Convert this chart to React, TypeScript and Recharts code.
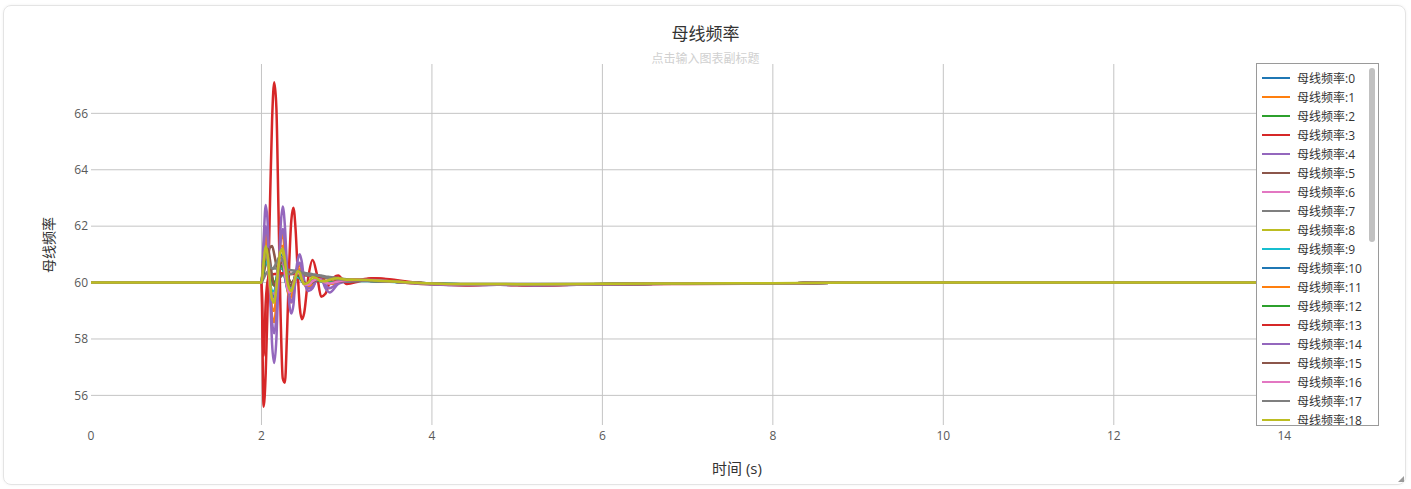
import { LineChart, Line, XAxis, YAxis, CartesianGrid } from 'recharts';

// sample times (s), dense during the transient after the fault at t = 2 s
const TIME = [
  0, 1.99, 2.0, 2.025, 2.05, 2.075, 2.1, 2.125, 2.15, 2.175, 2.2, 2.225, 2.25, 2.275, 2.3, 2.325,
  2.35, 2.375, 2.4, 2.425, 2.45, 2.475, 2.5, 2.55, 2.6, 2.65, 2.7, 2.75, 2.8, 2.9, 3.0,
  3.15, 3.3, 3.5, 3.75, 4.0, 4.4, 4.8, 5.2, 5.7, 6.2, 7.0, 8.0, 9.0, 11.0, 15.1,
];

const bus0 = [60, 60, 60, 61.0, 61.5, 60.9, 59.9, 59.4, 59.5, 60.1, 60.8, 61.0, 60.8, 60.3, 59.8, 59.6, 59.7, 60.0, 60.3, 60.4, 60.3, 60.1, 59.95, 59.9, 60.05, 60.15, 60.1, 60.0, 59.95, 60.05, 60.1,
  60.1, 60.08, 60.05, 60.0, 59.96, 59.93, 59.94, 59.92, 59.94, 59.95, 59.96, 59.97, 60.0, 60.0, 60.0];
const bus1 = [60, 60, 60, 61.0, 61.8, 61.2, 59.8, 58.8, 58.6, 59.3, 60.6, 61.5, 61.7, 61.0, 60.0, 59.4, 59.3, 59.6, 60.2, 60.6, 60.6, 60.3, 60.0, 59.8, 59.9, 60.1, 60.15, 60.05, 59.95, 60.0, 60.08,
  60.12, 60.1, 60.05, 59.98, 59.94, 59.92, 59.93, 59.9, 59.93, 59.95, 59.96, 59.97, 60.0, 60.0, 60.0];
const bus2 = [60, 60, 60, 60.4, 60.7, 60.6, 60.3, 60.0, 59.9, 60.0, 60.3, 60.5, 60.5, 60.3, 60.1, 59.95, 59.9, 60.0, 60.15, 60.2, 60.2, 60.1, 60.0, 59.95, 60.0, 60.08, 60.1, 60.05, 60.0, 60.02, 60.06,
  60.08, 60.07, 60.04, 60.0, 59.96, 59.94, 59.94, 59.93, 59.94, 59.95, 59.96, 59.97, 60.0, 60.0, 60.0];
const bus3 = [60, 60, 60, 55.6, 56.8, 59.5, 62.8, 65.8, 67.1, 66.2, 62.5, 58.8, 56.6, 56.45, 58.2, 60.6, 62.2, 62.65, 61.9, 60.4, 59.1, 58.7, 58.9, 60.2, 60.8, 60.3, 59.5, 59.6, 60.0, 60.25, 59.95,
  60.05, 60.15, 60.1, 60.0, 59.95, 59.9, 59.93, 59.9, 59.93, 59.94, 59.95, 59.97, 60.0, 60.0, 60.0];
const bus4 = [60, 60, 60, 61.5, 62.75, 62.0, 59.8, 57.8, 57.15, 58.0, 60.2, 62.0, 62.7, 62.0, 60.5, 59.3, 58.9, 59.2, 60.2, 60.8, 61.0, 60.7, 60.1, 59.7, 59.8, 60.1, 60.15, 59.8, 59.65, 59.95, 60.05,
  60.1, 60.1, 60.05, 59.98, 59.93, 59.91, 59.92, 59.9, 59.92, 59.94, 59.96, 59.97, 60.0, 60.0, 60.0];
const bus5 = [60, 60, 60, 60.3, 60.7, 61.0, 61.25, 61.3, 61.0, 60.6, 60.3, 60.2, 60.3, 60.35, 60.25, 60.1, 60.0, 60.0, 60.1, 60.2, 60.2, 60.1, 60.0, 59.95, 60.05, 60.1, 60.05, 60.0, 60.0, 60.05, 60.05,
  60.08, 60.06, 60.04, 60.0, 59.96, 59.93, 59.94, 59.92, 59.94, 59.95, 59.96, 59.97, 60.0, 60.0, 60.0];
const bus6 = [60, 60, 60, 60.6, 61.0, 60.7, 60.0, 59.6, 59.6, 60.0, 60.5, 60.7, 60.6, 60.2, 59.9, 59.75, 59.8, 60.0, 60.2, 60.25, 60.2, 60.05, 59.95, 59.95, 60.05, 60.1, 60.05, 60.0, 59.98, 60.03, 60.06,
  60.07, 60.06, 60.04, 60.0, 59.96, 59.93, 59.94, 59.92, 59.94, 59.95, 59.96, 59.97, 60.0, 60.0, 60.0];
const bus7 = [60, 60, 60, 60.15, 60.3, 60.4, 60.45, 60.48, 60.5, 60.5, 60.5, 60.5, 60.48, 60.47, 60.46, 60.45, 60.44, 60.43, 60.42, 60.4, 60.38, 60.36, 60.35, 60.32, 60.3, 60.27, 60.25, 60.22, 60.2, 60.16, 60.12,
  60.1, 60.07, 60.04, 60.0, 59.97, 59.94, 59.94, 59.93, 59.94, 59.95, 59.96, 59.97, 60.0, 60.0, 60.0];
const bus8 = [60, 60, 60, 60.9, 61.4, 60.9, 59.9, 59.3, 59.3, 59.9, 60.7, 61.2, 61.1, 60.6, 60.0, 59.7, 59.7, 60.0, 60.3, 60.4, 60.3, 60.1, 59.95, 59.95, 60.1, 60.15, 60.1, 60.0, 60.0, 60.08, 60.1,
  60.1, 60.08, 60.05, 60.0, 59.96, 59.93, 59.94, 59.92, 59.94, 59.95, 59.96, 59.97, 60.0, 60.0, 60.0];
const bus9 = [60, 60, 60, 60.5, 60.9, 60.6, 60.0, 59.7, 59.7, 60.0, 60.4, 60.6, 60.5, 60.2, 59.9, 59.8, 59.85, 60.0, 60.15, 60.2, 60.15, 60.05, 59.98, 59.97, 60.03, 60.07, 60.05, 60.0, 60.0, 60.03, 60.05,
  60.06, 60.05, 60.03, 60.0, 59.97, 59.94, 59.94, 59.93, 59.94, 59.95, 59.96, 59.97, 60.0, 60.0, 60.0];
const bus10 = [60, 60, 60, 60.8, 61.3, 60.8, 60.0, 59.5, 59.5, 60.0, 60.6, 60.9, 60.7, 60.2, 59.85, 59.7, 59.75, 60.0, 60.25, 60.3, 60.2, 60.05, 59.95, 59.95, 60.05, 60.1, 60.05, 60.0, 59.97, 60.04, 60.08,
  60.08, 60.07, 60.04, 60.0, 59.96, 59.93, 59.94, 59.92, 59.94, 59.95, 59.96, 59.97, 60.0, 60.0, 60.0];
const bus11 = [60, 60, 60, 60.9, 61.5, 60.9, 59.8, 59.1, 59.0, 59.6, 60.6, 61.3, 61.3, 60.7, 59.9, 59.5, 59.5, 59.8, 60.2, 60.5, 60.45, 60.2, 59.95, 59.85, 59.95, 60.1, 60.12, 60.02, 59.96, 60.02, 60.08,
  60.1, 60.09, 60.05, 59.99, 59.95, 59.92, 59.93, 59.91, 59.93, 59.95, 59.96, 59.97, 60.0, 60.0, 60.0];
const bus12 = [60, 60, 60, 60.5, 60.9, 60.8, 60.5, 60.2, 60.0, 60.1, 60.4, 60.6, 60.55, 60.3, 60.05, 59.9, 59.9, 60.05, 60.2, 60.25, 60.2, 60.08, 59.98, 59.95, 60.02, 60.08, 60.08, 60.02, 59.99, 60.03, 60.06,
  60.07, 60.06, 60.04, 60.0, 59.96, 59.94, 59.94, 59.93, 59.94, 59.95, 59.96, 59.97, 60.0, 60.0, 60.0];
const bus13 = [60, 60, 60, 57.4, 59.3, 60.1, 60.25, 60.28, 60.3, 60.3, 60.32, 60.33, 60.33, 60.32, 60.32, 60.31, 60.3, 60.3, 60.3, 60.29, 60.28, 60.27, 60.26, 60.24, 60.22, 60.2, 60.18, 60.16, 60.14, 60.1, 60.08,
  60.1, 60.15, 60.12, 60.02, 59.96, 59.91, 59.93, 59.9, 59.93, 59.94, 59.96, 59.97, 60.0, 60.0, 60.0];
const bus14 = [60, 60, 60, 61.1, 62.0, 61.5, 60.0, 58.6, 58.2, 58.8, 60.2, 61.5, 61.9, 61.4, 60.4, 59.6, 59.3, 59.5, 60.1, 60.6, 60.7, 60.45, 60.05, 59.8, 59.85, 60.1, 60.12, 59.9, 59.8, 59.98, 60.05,
  60.1, 60.09, 60.05, 59.99, 59.94, 59.91, 59.92, 59.9, 59.92, 59.94, 59.96, 59.97, 60.0, 60.0, 60.0];
const bus15 = [60, 60, 60, 60.6, 61.1, 61.2, 60.8, 60.2, 59.9, 60.0, 60.4, 60.7, 60.7, 60.4, 60.1, 59.9, 59.9, 60.05, 60.2, 60.3, 60.25, 60.1, 60.0, 59.95, 60.02, 60.08, 60.08, 60.02, 59.98, 60.03, 60.06,
  60.07, 60.06, 60.04, 60.0, 59.96, 59.93, 59.94, 59.92, 59.94, 59.95, 59.96, 59.97, 60.0, 60.0, 60.0];
const bus16 = [60, 60, 60, 60.7, 61.2, 60.8, 59.9, 59.4, 59.4, 59.9, 60.6, 60.9, 60.8, 60.3, 59.85, 59.65, 59.7, 59.95, 60.25, 60.35, 60.3, 60.1, 59.95, 59.92, 60.05, 60.12, 60.08, 60.0, 59.97, 60.04, 60.08,
  60.09, 60.07, 60.04, 60.0, 59.96, 59.93, 59.93, 59.92, 59.93, 59.95, 59.96, 59.97, 60.0, 60.0, 60.0];
const bus17 = [60, 60, 60, 60.8, 61.1, 60.9, 60.6, 60.5, 60.55, 60.7, 60.85, 60.9, 60.8, 60.6, 60.4, 60.3, 60.3, 60.35, 60.4, 60.42, 60.4, 60.35, 60.3, 60.25, 60.25, 60.25, 60.22, 60.18, 60.15, 60.12, 60.1,
  60.08, 60.06, 60.04, 60.0, 59.97, 59.94, 59.94, 59.93, 59.94, 59.95, 59.96, 59.97, 60.0, 60.0, 60.0];
const bus18 = [60, 60, 60, 60.7, 61.3, 60.9, 60.0, 59.4, 59.3, 59.8, 60.6, 61.1, 61.2, 60.8, 60.1, 59.8, 59.7, 59.9, 60.2, 60.4, 60.35, 60.1, 59.95, 60.0, 60.2, 60.15, 60.05, 60.05, 60.1, 60.15, 60.1,
  60.1, 60.08, 60.05, 60.0, 59.97, 59.95, 59.95, 59.94, 59.95, 59.96, 59.97, 59.98, 60.0, 60.0, 60.0];

const SERIES = [bus0, bus1, bus2, bus3, bus4, bus5, bus6, bus7, bus8, bus9, bus10, bus11, bus12, bus13, bus14, bus15, bus16, bus17, bus18];
const NAMES = SERIES.map((_, i) => `母线频率:${i}`);

const X_TICKS = [0, 2, 4, 6, 8, 10, 12, 14];
const X_GRID = [2, 4, 6, 8, 10, 12, 14];
const Y_TICKS = [56, 58, 60, 62, 64, 66];

const COLORS = ['#1f77b4', '#ff7f0e', '#2ca02c', '#d62728', '#9467bd', '#8c564b', '#e377c2', '#7f7f7f', '#bcbd22', '#17becf'];

const FONT = '"Open Sans", "Noto Sans CJK SC", sans-serif';

const rows = TIME.map((t, i) => {
  const r: Record<string, number> = { t };
  SERIES.forEach((s, k) => {
    r['s' + k] = s[i];
  });
  return r;
});

function LegendBox() {
  return (
    <div
      style={{
        position: 'absolute', left: 1256, top: 63, width: 121, height: 361,
        border: '1px solid #9a9a9a', background: '#fff', overflow: 'hidden',
      }}
    >
      {NAMES.map((name, i) => (
        <div
          key={name}
          style={{ position: 'absolute', left: 5, top: 4 + i * 19, height: 19, display: 'flex', alignItems: 'center' }}
        >
          <span style={{ display: 'inline-block', width: 28, height: 2, background: COLORS[i % 10] }} />
          <span style={{ marginLeft: 7, fontSize: 12, color: '#333', whiteSpace: 'nowrap' }}>{name}</span>
        </div>
      ))}
      <div
        style={{ position: 'absolute', left: 112, top: 4, width: 6, height: 174, borderRadius: 3, background: '#c1c1c1' }}
      />
    </div>
  );
}

export default function App() {
  return (
    <div style={{ position: 'fixed', left: 0, top: 0, width: 1411, height: 489, background: '#fff', fontFamily: FONT }}>
      <div
        style={{
          position: 'absolute', left: 3, top: 5, width: 1401, height: 478,
          border: '1px solid #e4e4e4', borderRadius: 8, boxShadow: '0 0 3px rgba(0,0,0,0.06)',
        }}
      />
      <div style={{ position: 'absolute', left: 0, width: 1411, top: 20, textAlign: 'center', fontSize: 17, color: '#333' }}>
        母线频率
      </div>
      <div style={{ position: 'absolute', left: 0, width: 1411, top: 49, textAlign: 'center', fontSize: 12, color: '#d0d0d0' }}>
        点击输入图表副标题
      </div>
      <div style={{ position: 'absolute', left: 0, top: 0 }}>
        <LineChart width={1411} height={489} data={rows} margin={{ top: 64, right: 33, bottom: 44, left: 51 }}>
          <CartesianGrid stroke="#c4c4c4" verticalValues={X_GRID} horizontalValues={Y_TICKS} />
          <XAxis
            dataKey="t"
            type="number"
            domain={[0, 15.1]}
            ticks={X_TICKS}
            interval={0}
            allowDataOverflow
            axisLine={false}
            tickLine={false}
            tickSize={0}
            tickMargin={6}
            height={20}
            tick={{ fill: '#595959', fontSize: 12, fontFamily: FONT }}
          />
          <YAxis
            type="number"
            domain={[54.95, 67.75]}
            ticks={Y_TICKS}
            interval={0}
            allowDataOverflow
            axisLine={false}
            tickLine={false}
            tickSize={0}
            tickMargin={3}
            width={40}
            tick={{ fill: '#595959', fontSize: 12, fontFamily: FONT }}
          />
          {SERIES.map((_, k) => (
            <Line
              key={k}
              dataKey={'s' + k}
              name={NAMES[k]}
              type="monotone"
              stroke={COLORS[k % 10]}
              strokeWidth={2.5}
              dot={false}
              activeDot={false}
              isAnimationActive={false}
            />
          ))}
        </LineChart>
      </div>
      <div
        style={{
          position: 'absolute', left: 48, top: 245, transform: 'translate(-50%, -50%) rotate(-90deg)',
          fontSize: 14, color: '#333', whiteSpace: 'nowrap',
        }}
      >
        母线频率
      </div>
      <div style={{ position: 'absolute', left: 737, top: 457, transform: 'translateX(-50%)', fontSize: 15, color: '#333', whiteSpace: 'nowrap' }}>
        时间 (s)
      </div>
      <LegendBox />
      <svg style={{ position: 'absolute', left: 1398, top: 476 }} width={6} height={6}>
        <polygon points="6,0 6,6 0,6" fill="#9a9a9a" />
      </svg>
    </div>
  );
}
